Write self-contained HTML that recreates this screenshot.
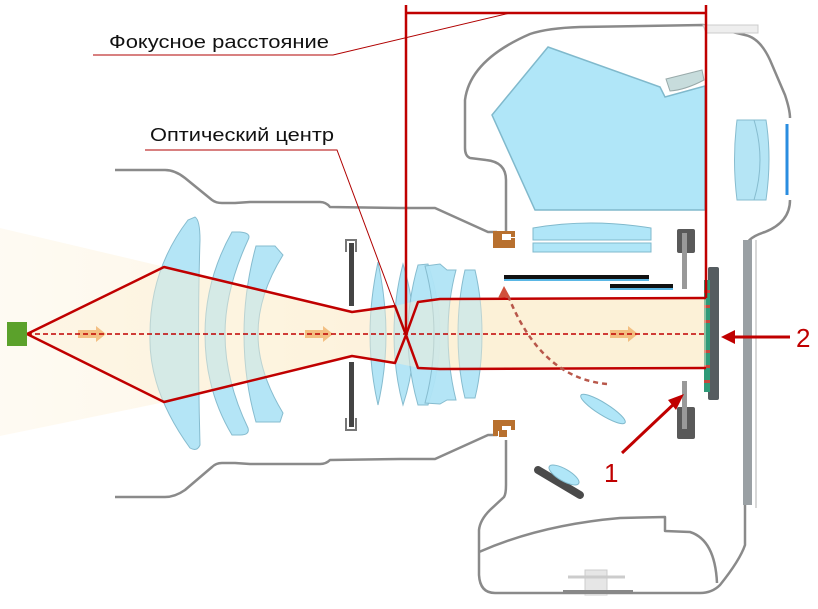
<!DOCTYPE html>
<html><head><meta charset="utf-8"><style>
html,body{margin:0;padding:0;background:#fff;width:818px;height:609px;overflow:hidden}
svg{display:block}
text{font-family:"Liberation Sans","DejaVu Sans",sans-serif}
</style></head><body>
<svg width="818" height="609" viewBox="0 0 818 609" xmlns="http://www.w3.org/2000/svg">
<defs>
<linearGradient id="cone" x1="0" x2="1" y1="0" y2="0">
<stop offset="0" stop-color="#fdf0d6" stop-opacity="0.3"/>
<stop offset="1" stop-color="#fdeecc" stop-opacity="0.9"/>
</linearGradient>
</defs>
<polygon points="0,228 165,267 352,312 395,306 420,300 710,298 710,368 420,368 395,363 352,356 165,402 0,436" fill="url(#cone)"/>
<rect x="415" y="299" width="293" height="69" fill="#fcf2d9"/>

<g fill="none" stroke="#8a8a8a" stroke-width="2.5" stroke-linejoin="round">
<path d="M115,170 L165,170 Q175,170 185,178 L212,200 Q216,203 222,203 L235,203 L250,202 L320,202 Q326,202 330,207 L400,208 L435,208 L488,232 L497,232"/>
<path d="M115,497 L165,497 Q175,497 185,490 L212,467 Q216,463 222,463 L235,463 L250,464 L320,464 Q326,464 330,460 L400,459 L435,459 L488,435 L497,435"/>
<path d="M506,232 L506,180 Q506,162 486,160 L470,158 Q465,156 465,148 L465,100 Q470,60 530,34 Q548,28 580,27 L703,25 L745,35 Q760,38 770,60 L785,95 Q790,110 790,118"/>
<path d="M790,200 Q790,222 765,232 Q745,238 745,250 L745,545 Q740,560 720,585 Q712,593 700,593 L495,593 Q480,593 479,575 L479,530 Q480,520 490,510 L504,497 Q506,494 506,485 L506,440"/>
<path d="M479,552 Q540,525 620,518 L665,517 L665,531 L690,532 Q715,540 717,583"/>
</g>
<path d="M703,25 L758,25 L758,33 L706,33 Z" fill="#eee" stroke="#ccc"/>
<rect x="743" y="240" width="9" height="265" fill="#9aa0a4"/>
<line x1="756" y1="240" x2="756" y2="508" stroke="#ccc" stroke-width="1.5"/>
<line x1="787" y1="124" x2="787" y2="195" stroke="#2a8de0" stroke-width="3"/>
<path d="M737,120 L766,120 Q772,158 766,200 L737,200 Q732,160 737,120 Z" fill="#b5e5f5" stroke="#86bccf"/>
<path d="M754,120 Q766,160 754,200" fill="none" stroke="#86bccf"/>
<rect x="585" y="570" width="22" height="25" fill="#e6e6e6" stroke="#ccc"/>
<line x1="568" y1="577" x2="625" y2="577" stroke="#ccc" stroke-width="3"/>
<rect x="563" y="590" width="70" height="4" fill="#888"/>

<polygon points="548,47 660,87 665,97 705,86 705,210 535,210 492,115" fill="#b0e6f8" stroke="#80b9cc" stroke-width="1.5"/>
<path d="M666,79 L702,70 L704,80 Q685,90 670,91 Z" fill="#c7dcdc" stroke="#9aa"/>
<path d="M533,228 Q590,218 651,228 L651,240 L533,240 Z" fill="#b0e6f8" stroke="#80b9cc"/>
<rect x="533" y="243" width="118" height="9" fill="#b0e6f8" stroke="#80b9cc"/>
<rect x="504" y="275" width="145" height="4" fill="#111"/><rect x="504" y="279" width="145" height="2" fill="#5ab7e5"/>
<rect x="610" y="284" width="63" height="4" fill="#111"/><rect x="610" y="288" width="63" height="2" fill="#5ab7e5"/>
<rect x="677" y="229" width="18" height="24" rx="2" fill="#595959"/>
<rect x="682" y="233" width="5" height="56" fill="#999"/>
<rect x="677" y="407" width="18" height="32" rx="2" fill="#595959"/>
<rect x="682" y="381" width="5" height="48" fill="#999"/>
<rect x="708" y="267" width="11" height="133" rx="2" fill="#555c60"/>
<rect x="704" y="280" width="6" height="112" fill="#2f9a78"/>
<g fill="#c6473d"><rect x="704" y="290" width="6" height="3"/><rect x="704" y="305" width="6" height="3"/><rect x="704" y="320" width="6" height="3"/><rect x="704" y="350" width="6" height="3"/><rect x="704" y="365" width="6" height="3"/><rect x="704" y="380" width="6" height="3"/></g>
<ellipse cx="603" cy="409" rx="26" ry="6" transform="rotate(32 603 409)" fill="#b0e6f8" stroke="#80b9cc"/>
<line x1="538" y1="470" x2="580" y2="495" stroke="#4a4a4a" stroke-width="8" stroke-linecap="round"/>
<ellipse cx="564" cy="475" rx="17" ry="6" transform="rotate(30 564 475)" fill="#b0e6f8" stroke="#80b9cc"/>
<g fill="#b8702e">
<path d="M493,231 h22 v6 h-4 v-3 h-9 v6 h9 v-2 h4 v10 h-22 Z"/>
<path d="M493,420 h22 v10 h-4 v-4 h-9 v5 h-4 v5 h-5 Z"/>
<rect x="499" y="430" width="8" height="7"/>
</g>

<g fill="#b0e4f6" stroke="#86bccf" stroke-width="1" fill-opacity="0.95">
<path d="M195,217 Q200,220 200,240 Q197,334 200,445 Q197,452 190,448 Q148,390 150,334 Q150,270 188,220 Z"/>
<path d="M240,232 Q252,233 248,240 Q225,290 225,334 Q225,380 248,428 Q250,435 240,435 L232,435 Q205,390 205,334 Q205,280 232,232 Z"/>
<path d="M256,246 L275,246 L283,255 Q258,295 258,334 Q258,372 283,413 L280,422 L256,422 Q244,380 244,334 Q244,290 256,246 Z"/>
<path d="M378,262 Q386,300 386,334 Q386,370 378,405 Q370,370 370,334 Q370,300 378,262 Z"/>
<path d="M403,264 Q414,300 414,334 Q414,372 403,405 Q394,372 394,334 Q394,298 403,264 Z"/>
<path d="M418,265 L428,264 Q440,300 440,334 Q440,370 428,405 L418,405 Q408,370 408,334 Q408,300 418,265 Z"/>
<path d="M425,266 L440,264 L447,270 L456,270 Q448,300 448,334 Q448,368 456,400 L447,400 L440,404 L425,403 Q434,370 434,334 Q434,300 425,266 Z"/>
<path d="M465,270 L475,270 Q482,300 482,334 Q482,370 475,398 L465,398 Q458,370 458,334 Q458,300 465,270 Z"/>
</g>
<g fill="none" stroke="#777" stroke-width="2"><path d="M346,252 v-12 h10 v12"/><path d="M346,418 v12 h10 v-12"/></g>
<rect x="349" y="243" width="5" height="63" fill="#444"/>
<rect x="349" y="362" width="5" height="65" fill="#444"/>

<polygon points="165,267 352,312 395,306 420,300 706,298 706,368 420,368 395,363 352,356 165,402 27,334" fill="#fdf0d4" fill-opacity="0.45"/>

<g fill="#f0b26a" opacity="0.8">
<polygon points="78,330 96,330 96,326 106,334 96,342 96,338 78,338"/>
<polygon points="305,330 323,330 323,326 333,334 323,342 323,338 305,338"/>
<polygon points="610,330 628,330 628,326 638,334 628,342 628,338 610,338"/>
</g>

<g fill="none" stroke="#c00000" stroke-width="2.5" stroke-linejoin="round">
<polyline points="27,334 164,267 352,312 395,306 406,335 418,368 440,369 706,368"/>
<polyline points="27,334 164,402 352,356 395,363 406,335 418,302 440,299 706,298"/>
<polyline points="406,5 406,335"/>
<polyline points="706,5 706,298"/>
<line x1="406" y1="13" x2="706" y2="13"/>
</g>
<line x1="27" y1="334" x2="706" y2="334" stroke="#c00000" stroke-width="1.5" stroke-dasharray="5,3"/>
<rect x="7" y="322" width="20" height="24" fill="#5ba12b"/>
<path d="M607,384 Q540,378 507,293" fill="none" stroke="#b8574a" stroke-width="2.5" stroke-dasharray="5,4"/>
<polygon points="504,286 498,298 510,297" fill="#d0503c"/>

<text x="109" y="48" font-size="18" fill="#111" textLength="220" lengthAdjust="spacingAndGlyphs">Фокусное расстояние</text>
<polyline points="93,55 333,55 510,13" fill="none" stroke="#b00000" stroke-width="1"/>
<text x="150" y="141" font-size="18" fill="#111" textLength="184" lengthAdjust="spacingAndGlyphs">Оптический центр</text>
<polyline points="145,150 337,150 406,335" fill="none" stroke="#b00000" stroke-width="1"/>

<line x1="622" y1="453" x2="676" y2="402" stroke="#c00000" stroke-width="3"/>
<polygon points="684,394 668,400 676,410" fill="#c00000"/>
<text x="604" y="482" font-size="26" fill="#c00000">1</text>
<line x1="790" y1="337" x2="730" y2="337" stroke="#c00000" stroke-width="3"/>
<polygon points="721,337 735,330 735,344" fill="#c00000"/>
<text x="796" y="347" font-size="26" fill="#c00000">2</text>
</svg>
</body></html>
